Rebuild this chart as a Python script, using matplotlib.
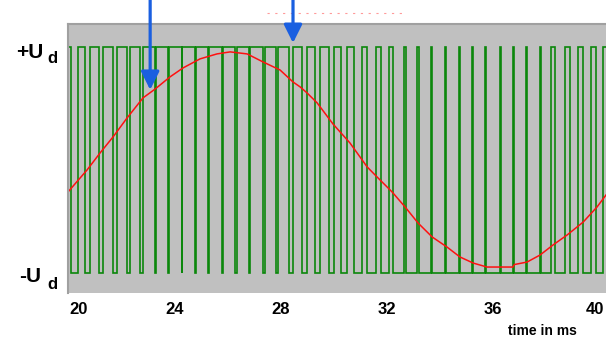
import numpy as np
import matplotlib.pyplot as plt
from matplotlib import transforms

plt.rcParams['font.family'] = ['Liberation Sans', 'DejaVu Sans']

# PWM output: low intervals (start, end) in ms, high (+Ud) in between
low_start = [20.09, 20.60, 21.13, 21.66, 22.19, 22.68, 23.25, 23.75, 24.25, 24.76,
             25.26, 25.76, 26.28, 26.80, 27.31, 27.79, 28.29, 28.78, 29.28, 29.79,
             30.25, 30.76, 31.26, 31.76, 32.24, 32.71, 33.21, 33.71, 34.23, 34.76,
             35.25, 35.75, 36.28, 36.79, 37.29, 37.80, 38.35, 38.89, 39.40, 39.90]
low_end = [20.32, 20.79, 21.28, 21.81, 22.30, 22.79, 23.28, 23.77, 24.28, 24.78,
           25.28, 25.79, 26.33, 26.83, 27.40, 27.90, 28.44, 28.97, 29.47, 30.00,
           30.50, 31.07, 31.57, 32.08, 32.62, 33.14, 33.65, 34.19, 34.72, 35.21,
           35.71, 36.25, 36.76, 37.26, 37.76, 38.20, 38.71, 39.21, 39.71, 40.15]

# fundamental (red trace), time in ms and value relative to Ud
sine_t = [19.96, 20.68, 21.17, 21.66, 22.19, 22.79, 23.25, 23.81, 24.30, 24.94,
          25.58, 26.08, 26.72, 27.32, 27.96, 28.45, 28.72, 28.98, 29.36, 29.96,
          30.60, 31.25, 31.62, 32.19, 32.68, 33.17, 33.70, 34.26, 34.75, 35.25,
          35.77, 36.26, 36.75, 36.80, 37.28, 37.77, 38.26, 38.79, 39.40, 39.92, 40.26]
sine_v = [-0.283, -0.088, 0.062, 0.204, 0.372, 0.549, 0.628, 0.735, 0.814, 0.894,
          0.938, 0.956, 0.938, 0.867, 0.796, 0.690, 0.646, 0.593, 0.505, 0.318,
          0.150, -0.062, -0.150, -0.283, -0.416, -0.558, -0.681, -0.770, -0.858, -0.912,
          -0.947, -0.947, -0.947, -0.925, -0.903, -0.841, -0.752, -0.664, -0.549, -0.416, -0.310]

xticks = [20, 24, 28, 32, 36, 40]
arrow_t = [23.06, 28.45]
arrow_tip = [0.62, 1.035]

# build the step waveform
pwm_t = [19.97]
pwm_v = [1]
for s, e in zip(low_start, low_end):
    pwm_t += [s, s, e, e]
    pwm_v += [1, -1, -1, 1]
pwm_t.append(40.3)
pwm_v.append(1)

fig = plt.figure(figsize=(6.06, 3.37), dpi=100)
ax = fig.add_axes([68 / 606, 1 - 292.7 / 337, 538 / 606, 268.4 / 337])
ax.set_facecolor('#c0c0c0')
ax.set_xlim(19.96, 40.26)
ax.set_ylim(-1.174, 1.20)

ax.plot(pwm_t, pwm_v, color='#0b870b', lw=1.2, solid_joinstyle='miter')
ax.plot(sine_t, sine_v, color='#ff1010', lw=1.1)

for sp in ['bottom', 'right']:
    ax.spines[sp].set_visible(False)
for sp in ['top', 'left']:
    ax.spines[sp].set_color('#a0a0a0')
    ax.spines[sp].set_linewidth(1.5)

ax.set_yticks([])
ax.set_xticks(xticks)
ax.set_xticklabels([str(t) for t in xticks], fontsize=12, fontweight='bold')
ax.tick_params(axis='x', length=0, pad=7)
labels = ax.get_xticklabels()
labels[0].set_ha('left')
labels[-1].set_transform(labels[-1].get_transform() +
                         transforms.ScaledTranslation(-4 / 100, 0, fig.dpi_scale_trans))

# blue arrows coming from above the plot
for t, tip in zip(arrow_t, arrow_tip):
    ax.annotate('', xy=(t, tip), xytext=(t, 1.42), annotation_clip=False,
                arrowprops=dict(arrowstyle='-|>,head_length=1.1,head_width=0.55',
                                color='#1a5fe0', lw=2.3, mutation_scale=10,
                                shrinkA=0, shrinkB=0))

# faint dotted remnant above the plot
ax.plot([27.47, 32.75], [1.30, 1.30], color='#ff7070', lw=0.8,
        ls=(0, (2, 5)), clip_on=False, alpha=0.7)

# level labels
fig.text(16 / 606, 1 - 58 / 337, '+U', fontsize=15, fontweight='bold', va='baseline')
fig.text(47 / 606, 1 - 63 / 337, 'd', fontsize=12, fontweight='bold', va='baseline')
fig.text(19 / 606, 1 - 282 / 337, '-U', fontsize=15, fontweight='bold', va='baseline')
fig.text(47 / 606, 1 - 289 / 337, 'd', fontsize=12, fontweight='bold', va='baseline')

fig.text(542 / 606, 1 - 335 / 337, 'time in ms', fontsize=10, fontweight='bold',
         ha='center', va='baseline')

fig.savefig('out.png', dpi=100)
